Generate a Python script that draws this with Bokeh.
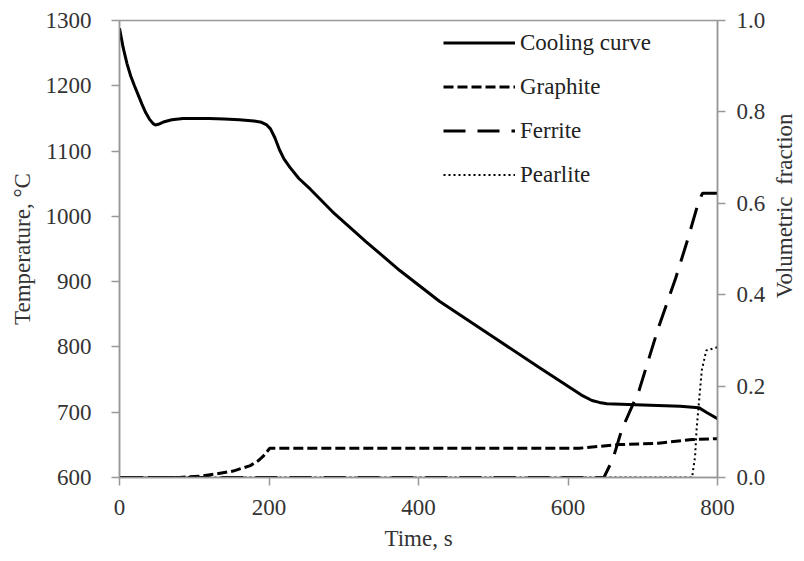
from bokeh.plotting import figure
from bokeh.layouts import row
from bokeh.models import (Range1d, LinearAxis, FixedTicker, NumeralTickFormatter,
                          Legend, LegendItem)
from bokeh.embed import file_html
from bokeh.resources import INLINE

# ---- data ----
cool_t = [0, 5, 10, 15, 20, 25, 30, 35, 40, 45, 48, 52, 60, 70, 85, 100, 120, 140, 160, 180,
          190, 197, 202, 208, 214, 220, 228, 240, 255, 285, 330, 375, 428, 495, 561, 620,
          632, 642, 652, 700, 750, 775, 785, 800]
cool_T = [1288, 1258, 1234, 1215, 1200, 1186, 1172, 1159, 1149, 1142, 1140, 1141, 1145, 1148, 1150,
          1150, 1150, 1149, 1148, 1146, 1144, 1140, 1134, 1120, 1102, 1088, 1075, 1058, 1042, 1007,
          961, 917, 870, 819, 769, 725, 718, 715, 713, 711, 709, 707, 700, 690]

graph_t = [0, 80, 108, 130, 152, 175, 185, 192, 197, 201, 210, 400, 615, 668, 721, 766, 800]
graph_f = [0, 0, 0.003, 0.008, 0.014, 0.026, 0.036, 0.046, 0.056, 0.064, 0.064, 0.064, 0.064,
           0.072, 0.075, 0.083, 0.085]

fer_t = [0, 648, 660, 672, 695, 721, 744, 760, 775, 780, 800]
fer_f = [0, 0, 0.04, 0.105, 0.19, 0.328, 0.436, 0.52, 0.605, 0.622, 0.622]

pear_t = [0, 766, 770, 772, 775, 779, 785, 800]
pear_f = [0, 0, 0.046, 0.105, 0.161, 0.235, 0.278, 0.285]

x_ticks = [0, 200, 400, 600, 800]
y_ticks = [600, 700, 800, 900, 1000, 1100, 1200, 1300]
f_ticks = [0.0, 0.2, 0.4, 0.6, 0.8, 1.0]

FONT = "Liberation Serif"
FS = "23px"
AX = "#999999"
TXT = "#333333"

p = figure(width=768, height=553, output_backend="svg", toolbar_location=None,
           x_range=Range1d(0, 800), y_range=Range1d(600, 1300),
           min_border_left=119, min_border_right=49, min_border_top=20, min_border_bottom=71)
p.extra_y_ranges = {"frac": Range1d(0, 1)}
p.xgrid.visible = False
p.ygrid.visible = False
p.outline_line_color = AX
p.outline_line_width = 1.5

r_cool = p.line(cool_t, cool_T, line_color="black", line_width=3)
r_graph = p.line(graph_t, graph_f, y_range_name="frac", line_color="black", line_width=3,
                 line_dash="10 4")
r_fer = p.line(fer_t, fer_f, y_range_name="frac", line_color="black", line_width=3,
               line_dash="22 12")
r_pear = p.line(pear_t, pear_f, y_range_name="frac", line_color="black", line_width=2,
                line_dash="2 3")

ax_r = LinearAxis(y_range_name="frac", ticker=FixedTicker(ticks=f_ticks),
                  formatter=NumeralTickFormatter(format="0.0"))
p.add_layout(ax_r, "right")

p.xaxis.ticker = FixedTicker(ticks=x_ticks)
p.yaxis[0].ticker = FixedTicker(ticks=y_ticks)
p.xaxis.axis_label = "Time, s"
p.yaxis[0].axis_label = "Temperature, \u00b0C"

for ax in [p.xaxis[0], p.yaxis[0], ax_r]:
    ax.axis_line_color = AX
    ax.axis_line_width = 1.5
    ax.major_tick_line_color = AX
    ax.major_tick_line_width = 1.5
    ax.major_tick_out = 8
    ax.major_tick_in = 0
    ax.minor_tick_line_color = None
    ax.major_label_text_font = FONT
    ax.major_label_text_font_size = FS
    ax.major_label_text_color = TXT
    ax.axis_label_text_font = FONT
    ax.axis_label_text_font_size = FS
    ax.axis_label_text_color = TXT
    ax.axis_label_text_font_style = "normal"

p.xaxis[0].major_label_standoff = 14
p.xaxis[0].axis_label_standoff = 8
p.yaxis[0].major_label_standoff = 20
p.yaxis[0].axis_label_standoff = 8
ax_r.major_label_standoff = 11

legend = Legend(items=[LegendItem(label="Cooling curve", renderers=[r_cool]),
                       LegendItem(label="Graphite", renderers=[r_graph]),
                       LegendItem(label="Ferrite", renderers=[r_fer]),
                       LegendItem(label="Pearlite", renderers=[r_pear])],
                location=(314, 279), margin=0, padding=10, spacing=17,
                glyph_width=72, glyph_height=27, label_height=27, label_standoff=5,
                label_text_font=FONT, label_text_font_size=FS, label_text_color="#222222",
                background_fill_alpha=0, border_line_alpha=0)
p.add_layout(legend)

# narrow companion panel carrying the right-hand axis title (reads bottom-to-top)
p2 = figure(width=28, height=553, output_backend="svg", toolbar_location=None,
            x_range=Range1d(0, 1), y_range=Range1d(0, 1),
            min_border_left=0, min_border_right=0, min_border_top=20, min_border_bottom=71)
p2.xgrid.visible = False
p2.ygrid.visible = False
p2.xaxis.visible = False
p2.outline_line_color = None
p2.yaxis.ticker = FixedTicker(ticks=[])
p2.yaxis.axis_line_color = None
p2.yaxis.major_tick_line_color = None
p2.yaxis.minor_tick_line_color = None
p2.yaxis.axis_label = "\u00a0" * 15 + "Volumetric\u00a0\u00a0fraction"
p2.yaxis.axis_label_standoff = 0
p2.yaxis.axis_label_text_font = FONT
p2.yaxis.axis_label_text_font_size = FS
p2.yaxis.axis_label_text_color = TXT
p2.yaxis.axis_label_text_font_style = "normal"

layout = row(p, p2, spacing=0)
open("out.html", "w").write(file_html(layout, INLINE))
